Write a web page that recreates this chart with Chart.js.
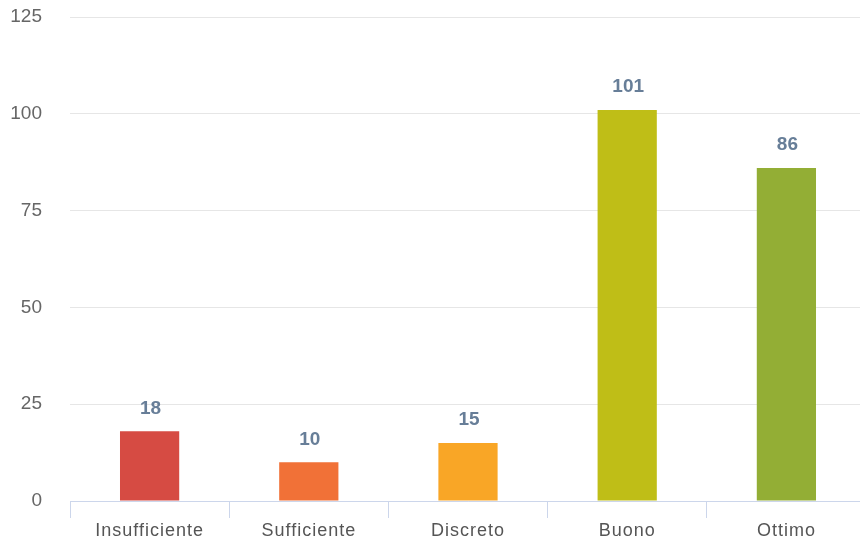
<!DOCTYPE html>
<html>
<head>
<meta charset="utf-8">
<script src="https://cdn.jsdelivr.net/npm/chart.js@4/dist/chart.umd.min.js"></script>
<style>
  html, body { margin: 0; padding: 0; background: #ffffff; overflow: hidden; }
  #wrap { width: 866px; height: 542px; }
</style>
</head>
<body>
<div id="wrap"><canvas id="chart"></canvas></div>
<script>
// Valutazioni: numero di risposte per giudizio
const categories = ['Insufficiente', 'Sufficiente', 'Discreto', 'Buono', 'Ottimo'];
const counts = [18, 10, 15, 101, 86];
const barColors = ['#d64b43', '#f17137', '#f9a626', '#bfbe17', '#93ae35'];
const yTicks = [0, 25, 50, 75, 100, 125];

// Writes each bar's value above it
const valueLabels = {
  id: 'valueLabels',
  afterDatasetsDraw(chart) {
    const ctx = chart.ctx;
    const meta = chart.getDatasetMeta(0);
    ctx.save();
    ctx.font = 'bold 19px "Liberation Sans", Arial, sans-serif';
    ctx.fillStyle = '#677e98';
    ctx.textAlign = 'center';
    ctx.textBaseline = 'middle';
    meta.data.forEach((bar, i) => {
      ctx.fillText(String(chart.data.datasets[0].data[i]), bar.x + 1, bar.y - 23);
    });
    ctx.restore();
  }
};

new Chart(document.getElementById('chart'), {
  type: 'bar',
  data: {
    labels: categories,
    datasets: [{
      data: counts,
      backgroundColor: barColors,
      borderWidth: 0,
      barPercentage: 0.372,
      categoryPercentage: 1
    }]
  },
  options: {
    responsive: true,
    maintainAspectRatio: false,
    animation: false,
    layout: { padding: { top: 17, right: 0, bottom: 0, left: 0 } },
    plugins: {
      legend: { display: false },
      tooltip: { enabled: false }
    },
    scales: {
      x: {
        grid: {
          display: true,
          drawOnChartArea: false,
          drawTicks: true,
          tickLength: 17,
          color: '#ccd6eb',
          offset: true
        },
        border: { display: true, color: '#ccd6eb', width: 1 },
        ticks: {
          color: '#555555',
          padding: 2,
          font: { family: '"Liberation Sans", Arial, sans-serif', size: 18 }
        },
        afterFit(scale) {
          scale.height = 41;
          // category labels are drawn slightly tracked out
          if (!scale._spaced) {
            const draw = scale.drawLabels;
            scale.drawLabels = function (area) {
              const ctx = this.ctx;
              ctx.save();
              ctx.letterSpacing = '1px';
              draw.call(this, area);
              ctx.restore();
            };
            scale._spaced = true;
          }
        }
      },
      y: {
        min: yTicks[0],
        max: yTicks[yTicks.length - 1],
        afterBuildTicks(scale) { scale.ticks = yTicks.map(v => ({ value: v })); },
        grid: { color: '#e6e6e6', drawTicks: false },
        border: { display: false },
        ticks: {
          color: '#666666',
          padding: 28,
          font: { family: '"Liberation Sans", Arial, sans-serif', size: 19 }
        },
        afterFit(scale) {
          scale.width = 70;
          scale.paddingTop = 0;
          scale.paddingBottom = 0;
        }
      }
    }
  },
  plugins: [valueLabels]
});
</script>
</body>
</html>
